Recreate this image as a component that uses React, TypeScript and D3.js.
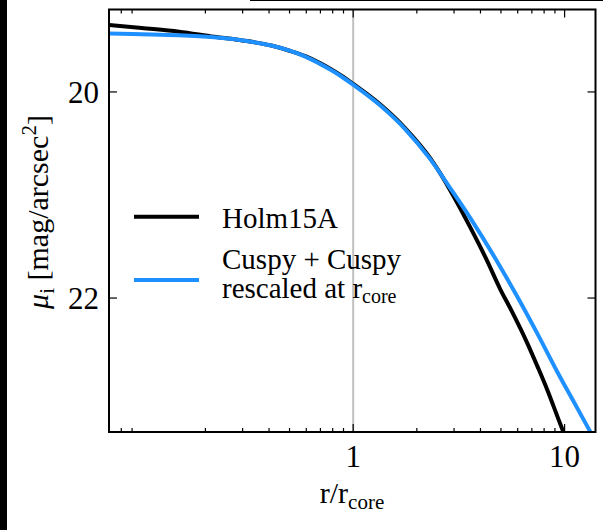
import React from "react";
import * as d3 from "d3";

const holmR = [0.07, 0.1, 0.15, 0.22, 0.3, 0.41, 0.5, 0.59, 0.7, 0.775, 0.88, 1.0, 1.34, 1.76, 2.31, 2.6, 2.98, 3.57, 4.28, 4.95, 5.6, 6.6, 7.5, 8.24, 9.57, 10.0];
const holmMu = [19.35, 19.38, 19.415, 19.465, 19.5, 19.55, 19.6, 19.65, 19.722, 19.772, 19.842, 19.922, 20.12, 20.35, 20.64, 20.8, 21.01, 21.31, 21.63, 21.91, 22.12, 22.42, 22.68, 22.88, 23.23, 23.33];

const cuspyR = [0.07, 0.1, 0.15, 0.22, 0.3, 0.41, 0.5, 0.59, 0.7, 0.775, 0.88, 1.0, 1.34, 1.76, 2.31, 2.87, 3.57, 4.78, 5.95, 7.5, 9.2, 11.0, 13.0, 14.0];
const cuspyMu = [19.433, 19.44, 19.45, 19.47, 19.5, 19.55, 19.6, 19.655, 19.73, 19.78, 19.85, 19.93, 20.13, 20.36, 20.65, 20.93, 21.22, 21.64, 21.98, 22.36, 22.71, 23.0, 23.27, 23.39];

const xMajorTicks = [1, 10];
const xMinorTicks = [0.08, 0.09, 0.2, 0.3, 0.4, 0.5, 0.6, 0.7, 0.8, 0.9, 2, 3, 4, 5, 6, 7, 8, 9];
const yMajorTicks = [20, 22];

const seriesNames = ["Holm15A", "Cuspy + Cuspy", "rescaled at r"];

const W = 603;
const H = 530;
const L = 109;
const R = 595.5;
const T = 9.5;
const B = 432;

const FONT = "'Liberation Serif', 'Times New Roman', serif";

export default function App() {
  const x = d3.scaleLog().domain([0.07, 14]).range([L, R]);
  const y = d3.scaleLinear().domain([19.2, 23.3]).range([T, B]);

  const line = d3
    .line<[number, number]>()
    .x((d) => x(d[0]))
    .y((d) => y(d[1]))
    .curve(d3.curveMonotoneX);

  const holm: [number, number][] = holmR.map((r, i) => [r, holmMu[i]]);
  const cuspy: [number, number][] = cuspyR.map((r, i) => [r, cuspyMu[i]]);

  const black = "#000";
  const blue = "#1E90FF";
  const ts = { fontFamily: FONT };

  return (
    <svg
      width={W}
      height={H}
      style={{ position: "absolute", left: 0, top: 0, background: "#fff", fontFamily: FONT }}
    >
      <rect x={0} y={0} width={W} height={H} fill="#fff" />
      <rect x={0} y={0} width={7} height={H} fill="#000" />
      <rect x={250} y={0} width={W - 250} height={1} fill="#000" />
      <defs>
        <clipPath id="plotclip">
          <rect x={L} y={T} width={R - L} height={B - T} />
        </clipPath>
      </defs>

      <line x1={x(1)} x2={x(1)} y1={T} y2={B} stroke="#c0c0c0" strokeWidth={2} />

      <g clipPath="url(#plotclip)">
        <path d={line(holm) || ""} fill="none" stroke={black} strokeWidth={4} strokeLinejoin="round" />
        <path d={line(cuspy) || ""} fill="none" stroke={blue} strokeWidth={4} strokeLinejoin="round" />
      </g>

      {xMajorTicks.map((t) => (
        <g key={"xM" + t}>
          <line x1={x(t)} x2={x(t)} y1={B} y2={B - 8} stroke="#000" strokeWidth={1.2} />
          <line x1={x(t)} x2={x(t)} y1={T} y2={T + 8} stroke="#000" strokeWidth={1.2} />
          <text x={x(t)} y={467} textAnchor="middle" fontSize={31} fill="#000" style={ts}>
            {t}
          </text>
        </g>
      ))}
      {xMinorTicks.map((t) => (
        <g key={"xm" + t}>
          <line x1={x(t)} x2={x(t)} y1={B} y2={B - 4} stroke="#000" strokeWidth={1.2} />
          <line x1={x(t)} x2={x(t)} y1={T} y2={T + 4} stroke="#000" strokeWidth={1.2} />
        </g>
      ))}
      {yMajorTicks.map((t) => (
        <g key={"y" + t}>
          <line x1={L} x2={L + 8} y1={y(t)} y2={y(t)} stroke="#000" strokeWidth={1.2} />
          <line x1={R} x2={R - 8} y1={y(t)} y2={y(t)} stroke="#000" strokeWidth={1.2} />
          <text x={99} y={y(t) + 11} textAnchor="end" fontSize={31} fill="#000" style={ts}>
            {t}
          </text>
        </g>
      ))}

      <rect x={L} y={T} width={R - L} height={B - T} fill="none" stroke="#000" strokeWidth={2} />

      <text x={352} y={503} textAnchor="middle" fontSize={30} fill="#000" style={ts}>
        r/r
        <tspan fontSize={21} dy={6}>core</tspan>
      </text>
      <text
        transform={`translate(48, 212) rotate(-90)`}
        textAnchor="middle"
        fontSize={30}
        fill="#000"
        style={ts}
      >
        <tspan fontStyle="italic">μ</tspan>
        <tspan fontSize={21} dy={6}>i</tspan>
        <tspan dy={-6}> [mag/arcsec</tspan>
        <tspan fontSize={21} dy={-12}>2</tspan>
        <tspan dy={12}>]</tspan>
      </text>

      <line x1={134} x2={199} y1={216.7} y2={216.7} stroke={black} strokeWidth={4} />
      <text x={222} y={228} fontSize={29} fill="#000" style={ts}>
        {seriesNames[0]}
      </text>
      <line x1={134} x2={199} y1={280} y2={280} stroke={blue} strokeWidth={4} />
      <text x={222} y={269} fontSize={29} fill="#000" style={ts}>
        {seriesNames[1]}
      </text>
      <text x={222} y={298} fontSize={29} fill="#000" style={ts}>
        {seriesNames[2]}
        <tspan fontSize={20} dy={5}>core</tspan>
      </text>
    </svg>
  );
}
